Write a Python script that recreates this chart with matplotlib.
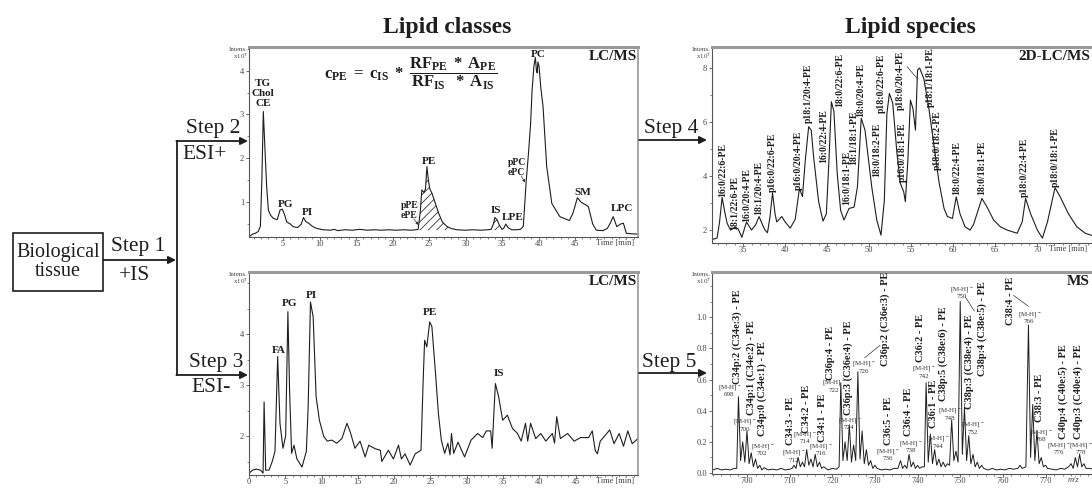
import numpy as np
import matplotlib
matplotlib.use('Agg')
import matplotlib.pyplot as plt
from matplotlib.patches import FancyArrowPatch, Rectangle
from matplotlib.lines import Line2D
from matplotlib.ticker import MultipleLocator, FormatStrFormatter

plt.rcParams['font.family'] = ['Liberation Serif', 'DejaVu Serif']
plt.rcParams['mathtext.fontset'] = 'custom'
plt.rcParams['mathtext.rm'] = 'Liberation Serif'
plt.rcParams['mathtext.it'] = 'Liberation Serif:italic'
plt.rcParams['mathtext.bf'] = 'Liberation Serif:bold'
plt.rcParams['mathtext.default'] = 'bf'
plt.rcParams['hatch.linewidth'] = 0.6

#Step 2: LC/MS lipid classes, ESI+ (time [min], intensity x10^7)
cls_time = [0.3, 0.8, 1.2, 1.6, 1.9, 2.1, 2.3, 2.5, 2.76, 2.99,
            3.3, 3.68, 4.2, 4.59, 4.9, 5.2, 5.5, 6.0, 6.4, 7.0,
            7.5, 7.8, 8.1, 8.5, 9.0, 9.6, 10.5, 11.5, 12.0, 12.5,
            13.5, 14.5, 15.5, 16.5, 17.5, 18.5, 19.5, 20.5, 21.5, 22.5,
            23.2, 23.5, 23.8, 24.0, 24.3, 24.5, 24.7, 24.9, 25.1, 25.4,
            25.8, 26.3, 26.8, 27.4, 28.0, 28.8, 30.0, 31.0, 32.0, 33.0,
            33.5, 33.8, 34.0, 34.3, 34.6, 34.97, 35.2, 35.5, 35.8, 36.3,
            37.0, 37.5, 37.9, 38.3, 38.6, 38.9, 39.1, 39.35, 39.55, 39.7,
            39.8, 39.9, 40.05, 40.3, 40.6, 41.1, 41.8, 42.9, 44.2, 44.7,
            45.3, 45.8, 46.3, 46.8, 47.4, 47.9, 48.8, 49.4, 49.8, 50.2,
            50.7, 51.2, 51.6, 52.0, 52.6, 53.6]
cls_int = [0.2, 0.27, 0.29, 0.33, 0.45, 1.5, 3.07, 2.3, 1.35, 0.82,
           0.7, 0.63, 0.6, 0.82, 0.84, 0.72, 0.55, 0.5, 0.44, 0.42,
           0.5, 0.65, 0.56, 0.52, 0.45, 0.4, 0.37, 0.36, 0.38, 0.35,
           0.37, 0.36, 0.38, 0.36, 0.37, 0.36, 0.37, 0.36, 0.37, 0.36,
           0.37, 0.38, 0.8, 1.28, 1.22, 1.3, 1.81, 1.5, 1.3, 1.2,
           1.0, 0.75, 0.55, 0.45, 0.4, 0.37, 0.36, 0.37, 0.36, 0.37,
           0.38, 0.5, 0.65, 0.6, 0.48, 0.38, 0.4, 0.5, 0.42, 0.37,
           0.37, 0.38, 0.45, 1.5, 2.1, 2.8, 3.56, 4.1, 4.3, 4.0,
           3.95, 4.2, 4.1, 3.6, 3.18, 1.81, 0.97, 0.67, 0.58, 0.75,
           1.1, 1.0, 0.95, 0.9, 0.5, 0.36, 0.35, 0.4, 0.52, 0.67,
           0.44, 0.5, 0.52, 0.29, 0.28, 0.27]
cls_names = ['TG\nChol\nCE', 'PG', 'PI', 'pPE\nePE', 'PE', 'IS', 'LPE', 'pPC\nePC', 'PC', 'SM', 'LPC']
cls_name_time = [2.3, 5.3, 8.3, 22.3, 25.0, 34.2, 36.4, 37.0, 40.0, 46.1, 51.4]
cls_name_int = [3.15, 0.84, 0.67, 0.6, 1.83, 0.71, 0.55, 1.58, 4.26, 1.11, 0.76]
pe_area = (23.4, 28.0) #hatched PE peak
is_area = (33.4, 35.0) #hatched internal standard peak

#Step 3: LC/MS lipid classes, ESI-
neg_time = [0.1, 0.48, 1.0, 1.6, 1.94, 2.08, 2.3, 2.76, 3.2, 3.58,
            3.95, 4.27, 4.68, 5.05, 5.36, 5.59, 5.87, 6.2, 6.6, 7.3,
            7.9, 8.15, 8.47, 8.84, 9.25, 9.7, 10.3, 10.8, 11.4, 12.1,
            12.8, 13.5, 13.95, 14.6, 15.3, 16.0, 16.5, 17.4, 18.1, 18.3,
            19.2, 19.9, 20.6, 21.0, 21.5, 22.2, 22.9, 23.7, 24.0, 24.2,
            24.5, 24.9, 25.2, 25.7, 26.1, 26.5, 26.96, 27.4, 27.7, 27.9,
            28.2, 28.8, 29.7, 30.6, 31.5, 32.2, 32.7, 33.3, 33.5, 33.95,
            34.4, 34.95, 35.6, 36.3, 37.0, 37.5, 38.1, 38.4, 38.8, 39.5,
            40.2, 40.9, 41.8, 42.1, 42.4, 42.9, 43.9, 44.8, 45.7, 46.8,
            47.3, 47.7, 48.0, 48.4, 49.0, 49.7, 50.3, 51.0, 51.6, 52.2,
            52.8, 53.6]
neg_int = [1.28, 1.33, 1.35, 1.33, 1.27, 2.67, 1.33, 1.33, 1.5, 1.7,
           3.56, 2.25, 1.76, 2.0, 4.44, 2.9, 1.66, 1.82, 1.55, 1.39,
           1.7, 2.57, 4.63, 4.34, 2.77, 2.31, 1.99, 1.9, 1.92, 1.86,
           1.95, 2.25, 2.08, 1.76, 1.9, 1.59, 1.82, 1.75, 1.72, 1.5,
           1.72, 1.55, 1.82, 1.55, 1.65, 1.43, 1.65, 1.72, 3.1, 3.88,
           3.75, 4.24, 4.15, 3.23, 2.44, 1.92, 1.66, 1.86, 1.63, 2.05,
           1.66, 1.88, 1.59, 1.92, 2.05, 1.97, 2.1, 2.1, 1.76, 3.03,
           2.77, 2.31, 2.41, 2.15, 2.05, 1.9, 2.25, 1.9, 2.25, 1.95,
           2.05, 1.9, 2.05, 1.86, 2.38, 1.95, 2.05, 1.9, 1.97, 1.97,
           2.1, 1.72, 1.65, 1.9, 2.0, 2.12, 1.85, 2.05, 1.8, 2.1,
           1.85, 1.95]
neg_names = ['FA', 'PG', 'PI', 'PE', 'IS']
neg_name_time = [4.1, 5.6, 8.6, 24.9, 34.4]
neg_name_int = [3.59, 4.52, 4.68, 4.33, 3.13]

#Step 4: 2D-LC/MS lipid species
spc_time = [31.3, 31.9, 32.2, 32.5, 32.8, 33.1, 33.5, 34.0, 34.4, 34.85,
            35.4, 36.0, 36.5, 36.9, 37.3, 37.6, 37.9, 38.2, 38.5, 38.8,
            39.0, 39.6, 40.0, 40.6, 41.2, 41.7, 42.06, 42.4, 42.8, 43.1,
            43.4, 43.98, 44.5, 44.9, 45.2, 45.5, 45.8, 46.2, 46.6, 47.0,
            47.6, 48.2, 48.6, 49.05, 49.5, 50.3, 50.9, 51.4, 51.8, 52.1,
            52.4, 52.8, 53.3, 53.7, 54.1, 54.3, 54.6, 54.9, 55.2, 55.5,
            55.75, 56.0, 56.5, 57.1, 57.7, 58.3, 58.9, 59.3, 59.9, 60.35,
            60.8, 61.4, 62.0, 62.4, 63.4, 64.0, 64.8, 65.6, 66.4, 67.6,
            68.2, 68.6, 69.2, 70.0, 70.6, 71.2, 72.1, 72.7, 73.7, 74.7,
            75.7, 76.5]
spc_int = [1.65, 1.7, 2.3, 3.21, 2.7, 2.25, 2.0, 2.1, 2.05, 1.73,
           2.3, 2.0, 2.2, 2.5, 2.2, 2.0, 1.9, 2.5, 3.38, 2.6,
           2.3, 2.5, 2.3, 2.07, 2.4, 3.54, 3.24, 4.6, 5.83, 5.7,
           4.67, 3.06, 2.33, 2.6, 4.5, 6.75, 6.4, 4.07, 2.73, 2.37,
           2.8, 2.85, 3.6, 6.14, 5.7, 3.6, 2.37, 1.81, 3.1, 6.3,
           7.06, 6.7, 4.84, 3.73, 3.42, 3.05, 4.6, 6.81, 6.5, 5.7,
           7.93, 8.0, 7.6, 6.5, 5.14, 3.78, 2.8, 2.5, 2.43, 3.23,
           2.6, 2.12, 2.0, 2.2, 3.17, 2.86, 2.37, 2.12, 2.0, 1.88,
           2.3, 3.17, 2.6, 2.0, 1.7, 2.3, 3.57, 3.24, 2.6, 2.12,
           1.88, 1.8]
spc_names = ['16:0/22:6-PE', '18:1/22:6-PE', '16:0/20:4-PE', '18:1/20:4-PE', 'p16:0/22:6-PE',
             'p16:0/20:4-PE', 'p18:1/20:4-PE', '16:0/22:4-PE', '18:0/22:6-PE', '16:0/18:1-PE',
             '18:1/18:1-PE', '18:0/20:4-PE', '18:0/18:2-PE', 'p18:0/22:6-PE', 'p16:0/18:1-PE',
             'p18:0/20:4-PE', 'p18:1/18:1-PE', 'p18:0/18:2-PE', '18:0/22:4-PE', '18:0/18:1-PE',
             'p18:0/22:4-PE', 'p18:0/18:1-PE']
spc_name_time = [32.54, 34.05, 35.44, 36.9, 38.5, 41.6, 42.8, 44.6, 46.5, 47.3,
                 48.1, 49.05, 50.9, 51.4, 53.9, 53.7, 57.3, 58.05, 60.36, 63.4,
                 68.45, 72.1]
spc_name_int = [3.23, 2.0, 2.31, 2.56, 3.42, 3.48, 5.95, 4.47, 6.57, 2.93,
                4.41, 6.2, 3.97, 6.32, 3.79, 6.44, 6.57, 4.22, 3.3, 3.3,
                3.23, 3.6]

#Step 5: MS spectrum (m/z, intensity)
ms_mz = [692, 693, 694, 695, 696, 697, 697.6,
         698, 698.5, 699, 699.5, 700, 700.5, 701, 701.5, 702, 702.5, 703, 703.5, 704,
         705, 706, 707, 708, 709, 710, 710.6,
         711, 711.5, 712, 712.5, 713, 713.5, 714, 714.5, 715, 715.5, 716, 716.5, 717, 717.5, 718,
         719, 720, 721, 721.6,
         722, 722.5, 723, 723.5, 724, 724.5, 725, 725.5, 726, 726.5, 727, 727.5, 728, 728.5, 729, 729.5, 730, 730.5,
         731.5, 732.5, 733.5, 734.5, 735.4,
         736, 736.5, 737, 737.5, 738, 738.5, 739, 739.5, 740, 740.5, 741, 741.6,
         742, 742.5, 743, 743.5, 744, 744.5, 745, 745.5, 746, 746.5, 747, 747.5, 748, 748.5,
         749, 749.5, 750, 750.5, 751, 751.5, 752, 752.5, 753, 753.5, 754, 754.5, 755, 755.5,
         756.5, 757.5, 758.5, 759.5, 760.5, 761.5, 762.5, 763.5, 764, 764.5, 765.4,
         766, 766.5, 767, 767.5, 768, 768.5, 769, 769.5, 770, 770.5,
         771.5, 772.5, 773.5, 774.5, 775.4, 776, 776.5, 777, 777.5, 778, 778.5, 779, 779.5, 780.5, 781.5]
ms_int = [0.02, 0.03, 0.02, 0.025, 0.02, 0.03, 0.03,
          0.49, 0.08, 0.20, 0.07, 0.27, 0.06, 0.13, 0.04, 0.09, 0.03, 0.05, 0.02, 0.035,
          0.02, 0.025, 0.02, 0.03, 0.02, 0.025, 0.03,
          0.05, 0.03, 0.10, 0.04, 0.07, 0.04, 0.15, 0.05, 0.09, 0.04, 0.12, 0.04, 0.07, 0.03, 0.04,
          0.02, 0.03, 0.025, 0.04,
          0.58, 0.08, 0.20, 0.08, 0.31, 0.07, 0.18, 0.08, 0.65, 0.09, 0.27, 0.06, 0.15, 0.05, 0.08, 0.03, 0.05, 0.03,
          0.02, 0.025, 0.02, 0.03, 0.03,
          0.08, 0.03, 0.05, 0.03, 0.12, 0.04, 0.07, 0.03, 0.05, 0.03, 0.04, 0.04,
          0.58, 0.07, 0.25, 0.06, 0.15, 0.05, 0.09, 0.04, 0.07, 0.04, 0.06, 0.05, 0.34, 0.08,
          0.14, 0.07, 1.10, 0.12, 0.42, 0.08, 0.24, 0.06, 0.12, 0.04, 0.07, 0.03, 0.05, 0.03,
          0.02, 0.03, 0.02, 0.025, 0.02, 0.03, 0.025, 0.03, 0.05, 0.03, 0.04,
          0.95, 0.10, 0.44, 0.08, 0.27, 0.06, 0.10, 0.04, 0.05, 0.03,
          0.025, 0.02, 0.03, 0.025, 0.04, 0.06, 0.03, 0.10, 0.04, 0.12, 0.04, 0.06, 0.03, 0.03, 0.02]
ms_names = ['C34p:2 (C34e:3) - PE', 'C34p:1 (C34e:2) - PE', 'C34p:0 (C34e:1) - PE', 'C34:3 - PE',
            'C34:2 - PE', 'C34:1 - PE', 'C36p:4 - PE', 'C36p:3 (C36e:4) - PE', 'C36p:2 (C36e:3) - PE',
            'C36:5 - PE', 'C36:4 - PE', 'C36:2 - PE', 'C36:1 - PE', 'C38p:5 (C38e:6) - PE',
            'C38p:3 (C38e:4) - PE', 'C38p:4 (C38e:5) - PE', 'C38:4 - PE', 'C38:3 - PE',
            'C40p:4 (C40e:5) - PE', 'C40p:3 (C40e:4) - PE']
ms_name_mz = [697.6, 701.1, 703.5, 710.3, 714.0, 717.6, 719.5, 723.8, 732.4, 733.2,
              737.9, 740.6, 743.7, 746.1, 752.2, 755.1, 761.7, 768.6, 774.1, 777.7]
ms_name_int = [0.57, 0.37, 0.24, 0.18, 0.26, 0.2, 0.6, 0.37, 0.69, 0.18,
               0.24, 0.71, 0.29, 0.46, 0.41, 0.62, 0.95, 0.33, 0.22, 0.22]
ion_nums = [698, 700, 702, 712, 714, 716, 722, 724, 726, 736, 738, 742, 744, 748, 750, 752, 766, 768, 776, 778]
ion_mz = [695.9, 699.6, 703.6, 710.9, 713.6, 717.3, 720.4, 724.0, 727.5, 733.1,
          738.5, 741.5, 744.8, 747.6, 750.4, 753.0, 766.2, 769.0, 773.2, 778.2]
ion_int = [0.53, 0.31, 0.15, 0.11, 0.23, 0.15, 0.56, 0.32, 0.68, 0.12,
           0.17, 0.65, 0.2, 0.38, 1.16, 0.29, 1.0, 0.24, 0.16, 0.16]


W, H = 1092, 488
INK = '#1e1e1e'
fig = plt.figure(figsize=(W / 100, H / 100), dpi=100)

def fp(x, y):
    '''pixel position (from top left) -> figure fraction'''
    return (x / W, 1 - y / H)

def rect(l, t, r, b):
    return [l / W, 1 - b / H, (r - l) / W, (b - t) / H]

def frame(ax, right=True):
    for side in ('left', 'bottom'):
        ax.spines[side].set_color('#555555')
        ax.spines[side].set_linewidth(0.8)
    ax.spines['top'].set_color('#9a9a9a')
    ax.spines['top'].set_linewidth(2.2)
    ax.spines['right'].set_color('#9a9a9a')
    ax.spines['right'].set_linewidth(1.2)
    ax.spines['right'].set_visible(right)
    ax.tick_params(which='both', direction='out', labelsize=6, color='#555555', labelcolor='#444444', pad=1)
    ax.tick_params(which='major', length=2.5, width=0.6)
    ax.tick_params(which='minor', length=1.2, width=0.5)
    ax.tick_params(axis='x', which='major', length=2, pad=0.5)
    ax.text(-0.003, 1.0, 'Intens.\nx10$^7$', transform=ax.transAxes, ha='right', va='top',
            fontsize=5, color='#444444', linespacing=0.9)

ax_cls = fig.add_axes(rect(249, 47, 638, 237))
ax_neg = fig.add_axes(rect(249, 272, 638, 475))
ax_spc = fig.add_axes(rect(712, 47, 1092, 243))
ax_ms = fig.add_axes(rect(712, 272, 1092, 474))

#---- Step 2 panel
t = np.array(cls_time)
y = np.array(cls_int)
ax_cls.plot(t, y, color=INK, lw=0.8)
for lo, hi in (pe_area, is_area):
    m = (t >= lo) & (t <= hi)
    ax_cls.fill_between(t, y, 0.36, where=m, facecolor='none', edgecolor='#333333', hatch='////', linewidth=0)
for name, x0, y0 in zip(cls_names, cls_name_time, cls_name_int):
    small = name.startswith('p')
    ax_cls.text(x0, y0, name, ha='center', va='bottom', fontsize=7 if small else 8, fontweight='bold',
                color=INK, linespacing=1.15)
ax_cls.annotate('', xy=(23.55, 0.48), xytext=(22.9, 0.62),
                arrowprops=dict(arrowstyle='-|>', lw=0.5, color='#333333', mutation_scale=4, shrinkA=0, shrinkB=0))
ax_cls.annotate('', xy=(38.15, 1.45), xytext=(37.6, 1.6),
                arrowprops=dict(arrowstyle='-|>', lw=0.5, color='#333333', mutation_scale=4, shrinkA=0, shrinkB=0))
ax_cls.set_xlim(0.34, 53.6)
ax_cls.set_ylim(0.205, 4.54)
ax_cls.set_xticks(range(5, 50, 5))
ax_cls.xaxis.set_minor_locator(MultipleLocator(1))
ax_cls.set_yticks([1, 2, 3, 4])
ax_cls.yaxis.set_minor_locator(MultipleLocator(0.5))
frame(ax_cls)
ax_cls.text(50.5, -0.012, 'Time [min]', transform=ax_cls.get_xaxis_transform(), ha='center', va='top',
            fontsize=6, color='#444444')
ax_cls.text(0.997, 0.985, 'LC/MS', transform=ax_cls.transAxes, ha='right', va='top', fontsize=11,
            fontweight='bold', color=INK)
fig.text(*fp(411, 74), r'$c_{PE}\ =\ c_{IS}\ *\ \dfrac{RF_{PE}\ *\ A_{PE}}{RF_{IS}\ \ *\ A_{IS}}$',
         ha='center', va='center', fontsize=12, color=INK)

#---- Step 3 panel
ax_neg.plot(neg_time, neg_int, color=INK, lw=0.8)
for name, x0, y0 in zip(neg_names, neg_name_time, neg_name_int):
    ax_neg.text(x0, y0, name, ha='center', va='bottom', fontsize=8, fontweight='bold', color=INK)
ax_neg.set_xlim(0.34, 53.6)
ax_neg.set_ylim(1.235, 5.22)
ax_neg.set_xticks(range(0, 50, 5))
ax_neg.xaxis.set_minor_locator(MultipleLocator(1))
ax_neg.set_yticks([2, 3, 4])
ax_neg.yaxis.set_minor_locator(MultipleLocator(0.5))
frame(ax_neg)
ax_neg.text(50.5, -0.01, 'Time [min]', transform=ax_neg.get_xaxis_transform(), ha='center', va='top',
            fontsize=6, color='#444444')
ax_neg.text(0.997, 0.985, 'LC/MS', transform=ax_neg.transAxes, ha='right', va='top', fontsize=11,
            fontweight='bold', color=INK)

#---- Step 4 panel
ax_spc.plot(spc_time, spc_int, color=INK, lw=0.8)
for name, x0, y0 in zip(spc_names, spc_name_time, spc_name_int):
    ax_spc.text(x0, y0, name, rotation=90, ha='center', va='bottom', fontsize=7, fontweight='bold', color=INK)
ax_spc.plot([54.5, 55.75], [8.05, 7.6], color='#333333', lw=0.5)
ax_spc.set_xlim(31.3, 76.5)
ax_spc.set_ylim(1.52, 8.78)
ax_spc.set_xticks(range(35, 75, 5))
ax_spc.xaxis.set_minor_locator(MultipleLocator(1))
ax_spc.set_yticks([2, 4, 6, 8])
ax_spc.yaxis.set_minor_locator(MultipleLocator(1))
frame(ax_spc, right=False)
ax_spc.text(73.7, -0.012, 'Time [min]', transform=ax_spc.get_xaxis_transform(), ha='center', va='top',
            fontsize=6, color='#444444')
ax_spc.text(0.995, 0.985, '2D-LC/MS', transform=ax_spc.transAxes, ha='right', va='top', fontsize=11,
            fontweight='bold', color=INK)

#---- Step 5 panel
ax_ms.plot(ms_mz, ms_int, color=INK, lw=0.7)
for name, x0, y0 in zip(ms_names, ms_name_mz, ms_name_int):
    ax_ms.text(x0, y0, name, rotation=90, ha='center', va='bottom', fontsize=7.5, fontweight='bold', color=INK)
for n, x0, y0 in zip(ion_nums, ion_mz, ion_int):
    ax_ms.text(x0, y0, '[M-H]$^-$\n%d' % n, ha='center', va='center', fontsize=5, color='#333333',
               linespacing=0.85)
for xs, ys in (([731.2, 727.6], [0.82, 0.74]), ([751.2, 753.3], [1.13, 1.04]), ([762.5, 766.0], [1.14, 1.07])):
    ax_ms.plot(xs, ys, color='#333333', lw=0.5)
ax_ms.set_xlim(691.8, 780.9)
ax_ms.set_ylim(-0.006, 1.29)
ax_ms.set_xticks(range(700, 780, 10))
ax_ms.xaxis.set_minor_locator(MultipleLocator(2))
ax_ms.set_yticks([0.0, 0.2, 0.4, 0.6, 0.8, 1.0])
ax_ms.yaxis.set_major_formatter(FormatStrFormatter('%.1f'))
ax_ms.yaxis.set_minor_locator(MultipleLocator(0.1))
frame(ax_ms, right=False)
ax_ms.text(776.5, -0.012, 'm/z', transform=ax_ms.get_xaxis_transform(), ha='center', va='top',
           fontsize=6, style='italic', color='#444444')
ax_ms.text(0.995, 0.985, 'MS', transform=ax_ms.transAxes, ha='right', va='top', fontsize=11,
           fontweight='bold', color=INK)

#---- titles
fig.text(*fp(447, 28), 'Lipid classes', ha='center', va='center', fontsize=17, fontweight='bold', color=INK)
fig.text(*fp(910, 28), 'Lipid species', ha='center', va='center', fontsize=17, fontweight='bold', color=INK)

#---- workflow scheme on the left
def arrow(x0, y0, x1, y1):
    fig.add_artist(FancyArrowPatch(fp(x0, y0), fp(x1, y1), transform=fig.transFigure, arrowstyle='-|>',
                                   mutation_scale=11, lw=1.3, color=INK, shrinkA=0, shrinkB=0))

fig.add_artist(Rectangle(fp(13, 291), 90 / W, 58 / H, transform=fig.transFigure, fill=False, lw=1.2, ec=INK))
fig.text(*fp(58, 262), 'Biological\ntissue', ha='center', va='center', fontsize=14.5, linespacing=1.0, color=INK)
arrow(103, 260, 176, 260)
fig.text(*fp(138, 247), 'Step 1', ha='center', va='center', fontsize=15.5, color=INK)
fig.text(*fp(135, 275), '+IS', ha='center', va='center', fontsize=15.5, color=INK)
fig.add_artist(Line2D([177 / W, 177 / W], [1 - 141 / H, 1 - 375 / H], transform=fig.transFigure, lw=1.3, color=INK))
arrow(176.4, 141, 248, 141)
arrow(176.4, 375, 248, 375)
fig.text(*fp(213, 129), 'Step 2', ha='center', va='center', fontsize=15.5, color=INK)
fig.text(*fp(205, 154), 'ESI+', ha='center', va='center', fontsize=15.5, color=INK)
fig.text(*fp(216, 362), 'Step 3', ha='center', va='center', fontsize=15.5, color=INK)
fig.text(*fp(211, 387), 'ESI-', ha='center', va='center', fontsize=15.5, color=INK)
arrow(639, 140, 707, 140)
arrow(639, 373, 707, 373)
fig.text(*fp(671, 128), 'Step 4', ha='center', va='center', fontsize=15.5, color=INK)
fig.text(*fp(669, 362), 'Step 5', ha='center', va='center', fontsize=15.5, color=INK)

plt.savefig('out.png', dpi=100)
